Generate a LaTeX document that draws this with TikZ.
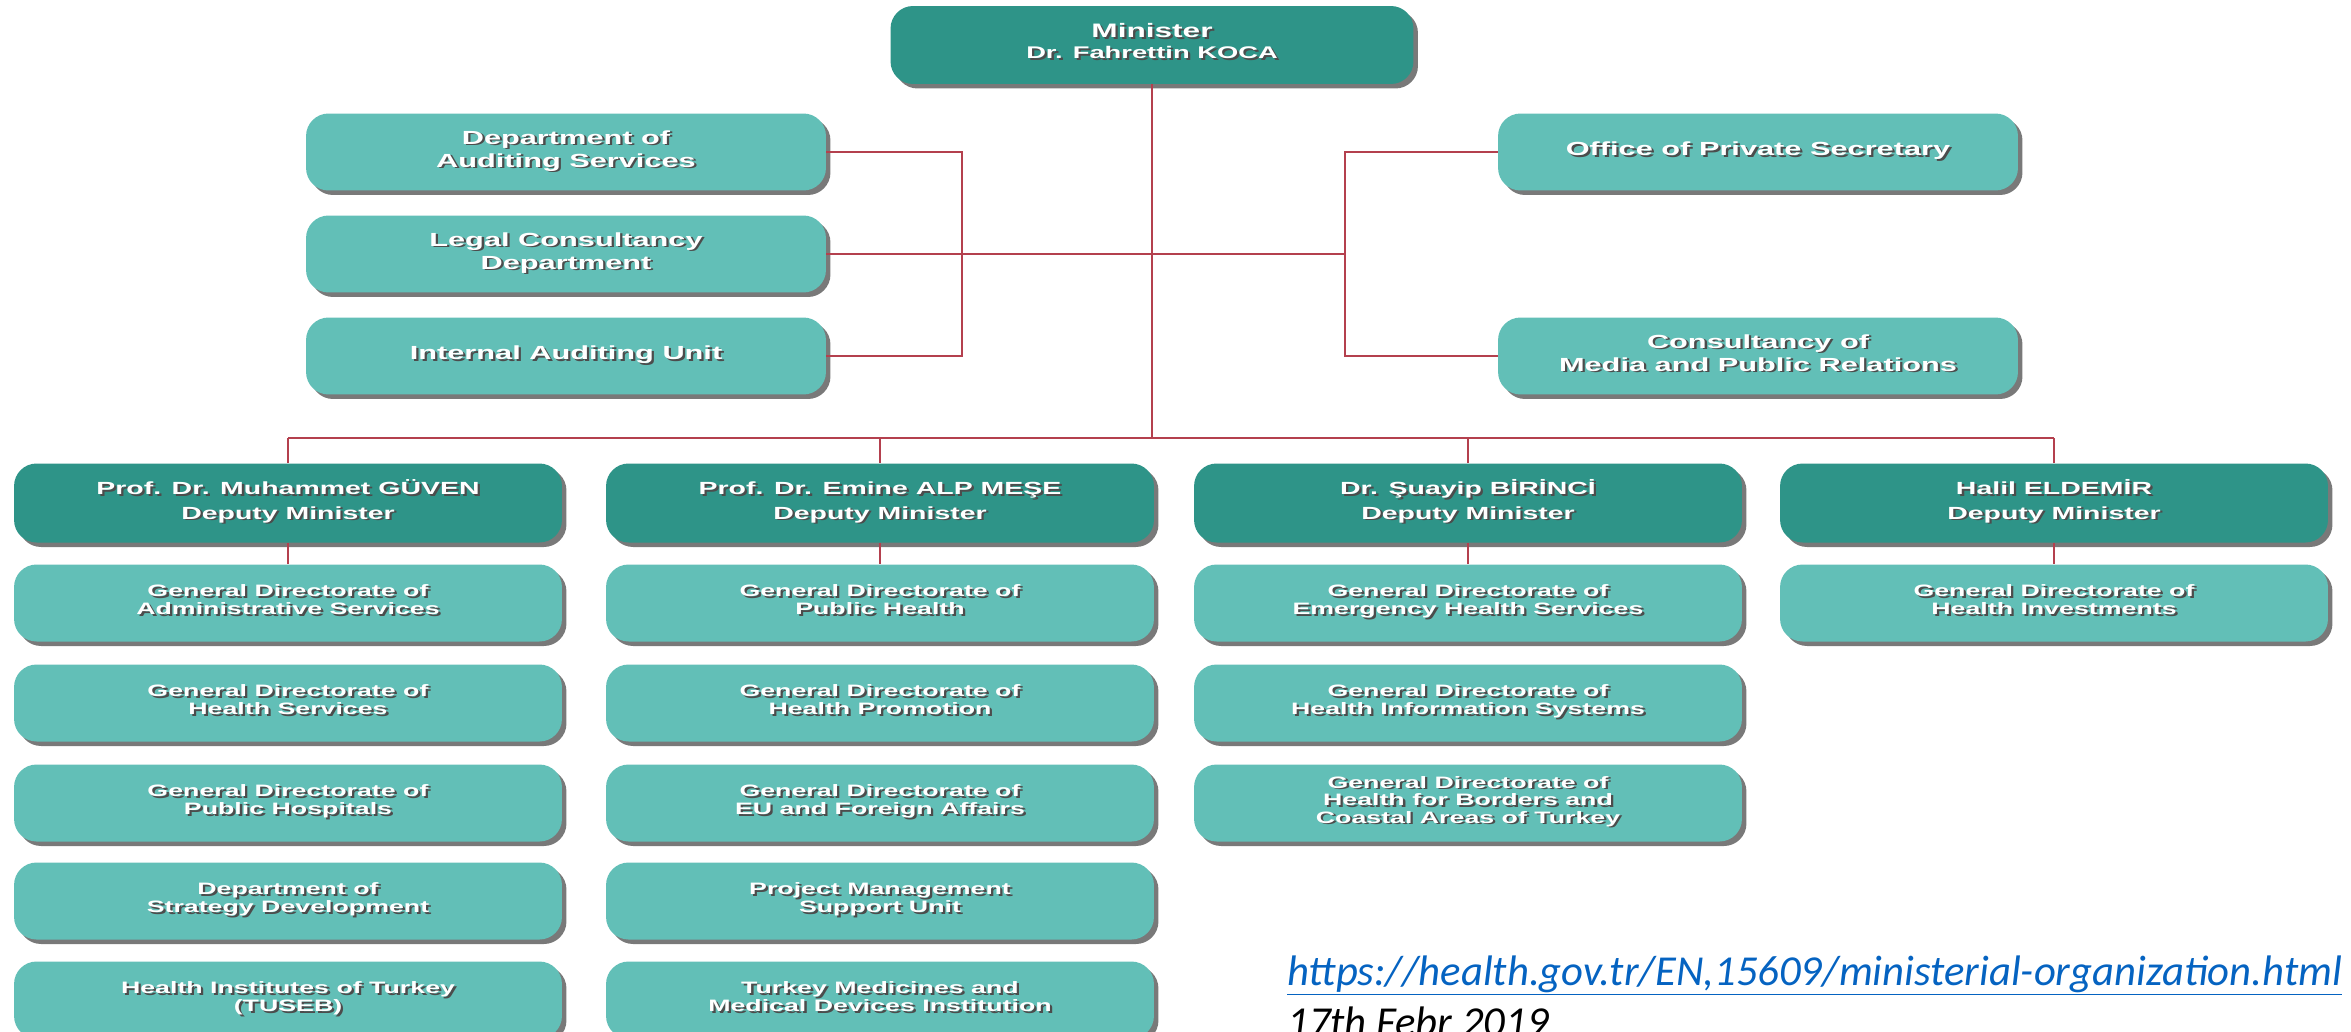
\documentclass[tikz,border=0pt]{standalone}
\usepackage{fontspec}
\setmainfont{Liberation Sans}
\newfontfamily\urlfont{Carlito}
\usepackage{graphicx}
\usetikzlibrary{shadows}

\definecolor{tealL}{HTML}{62BFB7}
\definecolor{tealD}{HTML}{2E9488}
\definecolor{linkred}{HTML}{B4404E}
\definecolor{urlblue}{HTML}{0563C1}

\newcommand{\boxlines}[1]{\scalebox{1.62}[1]{\rlap{\raisebox{-1pt}{\hspace{0.8pt}\color{black!70}\begin{tabular}{@{}c@{}}#1\end{tabular}}}\begin{tabular}{@{}c@{}}#1\end{tabular}}}

\begin{document}
\begin{tikzpicture}[x=0.02cm, y=-0.02cm,
  box/.style={rounded corners=0.45cm, inner sep=0pt, text=white,
    drop shadow={shadow xshift=0.09cm, shadow yshift=-0.09cm, fill=black!70, opacity=0.75}},
  top/.style={box, fill=tealD, minimum width=10.46cm, minimum height=1.56cm,
    font=\bfseries\fontsize{9.6pt}{12pt}\selectfont},
  staff/.style={box, fill=tealL, minimum width=10.4cm, minimum height=1.54cm,
    font=\bfseries\fontsize{10.8pt}{13.1pt}\selectfont},
  deputy/.style={box, fill=tealD, minimum width=10.96cm, minimum height=1.58cm,
    font=\bfseries\fontsize{10pt}{13.9pt}\selectfont},
  unit/.style={box, fill=tealL, minimum width=10.96cm, minimum height=1.54cm,
    font=\bfseries\fontsize{9.4pt}{10pt}\selectfont},
  link/.style={draw=linkred, line width=1.1pt}]
  \useasboundingbox (0,0) rectangle (2351,1031);

  \node[top] (min) at (1152,45) {\boxlines{{\fontsize{11.1pt}{12pt}\selectfont Minister}\\Dr. Fahrettin KOCA}};

  \node[staff] (aud) at (566,152) {\boxlines{Department of\\Auditing Services}};
  \node[staff] (legal) at (566,254) {\boxlines{Legal Consultancy\\Department}};
  \node[staff] (iau) at (566,356) {\boxlines{Internal Auditing Unit}};
  \node[staff] (ops) at (1758,152) {\boxlines{Office of Private Secretary}};
  \node[staff] (media) at (1758,356) {\boxlines{Consultancy of\\Media and Public Relations}};

  \node[deputy] (dep1) at (288,503) {\boxlines{Prof. Dr. Muhammet GÜVEN\\Deputy Minister}};
  \node[deputy] (dep2) at (880,503) {\boxlines{Prof. Dr. Emine ALP MEŞE\\Deputy Minister}};
  \node[deputy] (dep3) at (1468,503) {\boxlines{Dr. Şuayip BİRİNCİ\\Deputy Minister}};
  \node[deputy] (dep4) at (2054,503) {\boxlines{Halil ELDEMİR\\Deputy Minister}};

  \node[unit] (a1) at (288,603) {\boxlines{General Directorate of\\Administrative Services}};
  \node[unit] (a2) at (288,703) {\boxlines{General Directorate of\\Health Services}};
  \node[unit] (a3) at (288,803) {\boxlines{General Directorate of\\Public Hospitals}};
  \node[unit] (a4) at (288,901) {\boxlines{Department of\\Strategy Development}};
  \node[unit] (a5) at (288,1000) {\boxlines{Health Institutes of Turkey\\(TUSEB)}};

  \node[unit] (b1) at (880,603) {\boxlines{General Directorate of\\Public Health}};
  \node[unit] (b2) at (880,703) {\boxlines{General Directorate of\\Health Promotion}};
  \node[unit] (b3) at (880,803) {\boxlines{General Directorate of\\EU and Foreign Affairs}};
  \node[unit] (b4) at (880,901) {\boxlines{Project Management\\Support Unit}};
  \node[unit] (b5) at (880,1000) {\boxlines{Turkey Medicines and\\Medical Devices Institution}};

  \node[unit] (c1) at (1468,603) {\boxlines{General Directorate of\\Emergency Health Services}};
  \node[unit] (c2) at (1468,703) {\boxlines{General Directorate of\\Health Information Systems}};
  \node[unit] (c3) at (1468,803) {\boxlines{General Directorate of\\Health for Borders and\\Coastal Areas of Turkey}};

  \node[unit] (d1) at (2054,603) {\boxlines{General Directorate of\\Health Investments}};

  \coordinate (lj) at (962,254);
  \coordinate (rj) at (1345,254);
  \coordinate (bus) at (1152,438);

  \draw[link] (min.south) -- (min.south |- bus);
  \draw[link] (aud.east) -- (aud.east -| lj) -- (iau.east -| lj) -- (iau.east);
  \draw[link] (legal.east) -- (rj);
  \draw[link] (ops.west) -- (ops.west -| rj) -- (media.west -| rj) -- (media.west);
  \draw[link] (dep1.north |- bus) -- (dep4.north |- bus);
  \draw[link] (dep1.north |- bus) -- (dep1.north);
  \draw[link] (dep2.north |- bus) -- (dep2.north);
  \draw[link] (dep3.north |- bus) -- (dep3.north);
  \draw[link] (dep4.north |- bus) -- (dep4.north);
  \draw[link] (dep1) -- (a1);
  \draw[link] (dep2) -- (b1);
  \draw[link] (dep3) -- (c1);
  \draw[link] (dep4) -- (d1);

  \node[anchor=base west, inner sep=0pt, text=urlblue, font=\urlfont\itshape\fontsize{24.3pt}{28pt}\selectfont] (url) at (1287,985) {\underline{https://health.gov.tr/EN,15609/ministerial-organization.html}};
  \node[anchor=base west, inner sep=0pt, font=\urlfont\itshape\fontsize{24.3pt}{28pt}\selectfont] (date) at (1287,1036) {17th Febr 2019};
\end{tikzpicture}
\end{document}
